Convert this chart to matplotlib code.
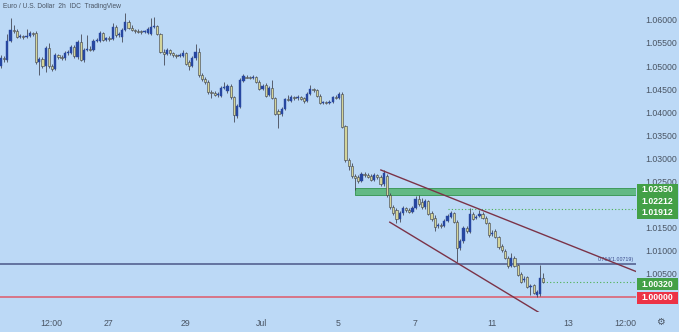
import matplotlib
matplotlib.use("Agg")
import numpy as np
import matplotlib.pyplot as plt
from matplotlib.patches import Rectangle
import matplotlib.transforms as mtransforms

# EUR/USD 2h candles (open, high, low, close)
opens = [1.0500, 1.0517, 1.0513, 1.0554, 1.0578, 1.0576, 1.0563, 1.0565, 1.0563, 1.0565,
         1.0572, 1.0572, 1.0509, 1.0515, 1.0500, 1.0539, 1.0500, 1.0494, 1.0524, 1.0520,
         1.0517, 1.0528, 1.0528, 1.0541, 1.0520, 1.0552, 1.0513, 1.0535, 1.0537, 1.0535,
         1.0554, 1.0554, 1.0572, 1.0556, 1.0561, 1.0559, 1.0585, 1.0567, 1.0563, 1.0578,
         1.0595, 1.0582, 1.0578, 1.0576, 1.0576, 1.0574, 1.0572, 1.0569, 1.0585, 1.0587,
         1.0569, 1.0530, 1.0526, 1.0535, 1.0528, 1.0524, 1.0522, 1.0522, 1.0528, 1.0509,
         1.0500, 1.0517, 1.0530, 1.0481, 1.0472, 1.0465, 1.0444, 1.0442, 1.0437, 1.0435,
         1.0452, 1.0446, 1.0457, 1.0433, 1.0392, 1.0411, 1.0468, 1.0476, 1.0476, 1.0474,
         1.0476, 1.0465, 1.0450, 1.0459, 1.0437, 1.0452, 1.0431, 1.0403, 1.0396, 1.0407,
         1.0429, 1.0424, 1.0433, 1.0431, 1.0433, 1.0431, 1.0424, 1.0439, 1.0450, 1.0448,
         1.0435, 1.0420, 1.0422, 1.0420, 1.0422, 1.0433, 1.0431, 1.0439, 1.0370, 1.0297,
         1.0284, 1.0262, 1.0260, 1.0251, 1.0266, 1.0264, 1.0262, 1.0253, 1.0264, 1.0260,
         1.0245, 1.0262, 1.0221, 1.0195, 1.0188, 1.0169, 1.0182, 1.0193, 1.0188, 1.0184,
         1.0193, 1.0212, 1.0206, 1.0195, 1.0208, 1.0182, 1.0171, 1.0154, 1.0156, 1.0154,
         1.0165, 1.0173, 1.0182, 1.0162, 1.0106, 1.0121, 1.0149, 1.0141, 1.0180, 1.0171,
         1.0175, 1.0180, 1.0171, 1.0160, 1.0136, 1.0143, 1.0130, 1.0110, 1.0100, 1.0084,
         1.0067, 1.0084, 1.0069, 1.0050, 1.0037, 1.0043, 1.0022, 1.0026, 1.0004, 1.0006,
         1.0041]
highs = [1.0524, 1.0522, 1.0569, 1.0604, 1.0589, 1.0580, 1.0569, 1.0567, 1.0580, 1.0576,
         1.0574, 1.0576, 1.0520, 1.0520, 1.0543, 1.0550, 1.0504, 1.0528, 1.0526, 1.0524,
         1.0533, 1.0535, 1.0546, 1.0546, 1.0556, 1.0569, 1.0539, 1.0567, 1.0543, 1.0559,
         1.0561, 1.0576, 1.0574, 1.0563, 1.0565, 1.0593, 1.0589, 1.0574, 1.0582, 1.0615,
         1.0600, 1.0589, 1.0580, 1.0580, 1.0578, 1.0578, 1.0585, 1.0604, 1.0606, 1.0589,
         1.0572, 1.0537, 1.0539, 1.0537, 1.0530, 1.0526, 1.0528, 1.0535, 1.0530, 1.0513,
         1.0522, 1.0548, 1.0539, 1.0485, 1.0476, 1.0470, 1.0448, 1.0446, 1.0444, 1.0457,
         1.0465, 1.0461, 1.0461, 1.0435, 1.0418, 1.0474, 1.0483, 1.0481, 1.0478, 1.0481,
         1.0478, 1.0470, 1.0461, 1.0463, 1.0457, 1.0470, 1.0433, 1.0407, 1.0411, 1.0431,
         1.0437, 1.0437, 1.0435, 1.0437, 1.0435, 1.0433, 1.0444, 1.0459, 1.0452, 1.0450,
         1.0439, 1.0424, 1.0424, 1.0427, 1.0435, 1.0437, 1.0444, 1.0444, 1.0372, 1.0301,
         1.0290, 1.0266, 1.0264, 1.0271, 1.0271, 1.0268, 1.0266, 1.0268, 1.0266, 1.0264,
         1.0275, 1.0266, 1.0225, 1.0199, 1.0193, 1.0186, 1.0197, 1.0195, 1.0193, 1.0197,
         1.0219, 1.0221, 1.0214, 1.0212, 1.0210, 1.0186, 1.0178, 1.0160, 1.0160, 1.0169,
         1.0180, 1.0186, 1.0184, 1.0167, 1.0126, 1.0154, 1.0154, 1.0193, 1.0184, 1.0178,
         1.0188, 1.0184, 1.0175, 1.0162, 1.0145, 1.0147, 1.0132, 1.0115, 1.0104, 1.0089,
         1.0095, 1.0089, 1.0071, 1.0054, 1.0045, 1.0045, 1.0028, 1.0028, 1.0015, 1.0069,
         1.0052]
lows = [1.0496, 1.0509, 1.0509, 1.0552, 1.0572, 1.0561, 1.0561, 1.0559, 1.0561, 1.0563,
        1.0565, 1.0504, 1.0481, 1.0496, 1.0487, 1.0496, 1.0489, 1.0491, 1.0515, 1.0513,
        1.0513, 1.0524, 1.0526, 1.0517, 1.0515, 1.0511, 1.0509, 1.0533, 1.0533, 1.0533,
        1.0552, 1.0552, 1.0554, 1.0554, 1.0554, 1.0556, 1.0563, 1.0563, 1.0552, 1.0576,
        1.0580, 1.0576, 1.0572, 1.0572, 1.0569, 1.0572, 1.0569, 1.0567, 1.0582, 1.0567,
        1.0528, 1.0502, 1.0524, 1.0524, 1.0520, 1.0517, 1.0520, 1.0520, 1.0502, 1.0491,
        1.0498, 1.0513, 1.0476, 1.0468, 1.0461, 1.0439, 1.0431, 1.0435, 1.0433, 1.0433,
        1.0450, 1.0442, 1.0429, 1.0379, 1.0388, 1.0409, 1.0465, 1.0474, 1.0472, 1.0472,
        1.0463, 1.0448, 1.0448, 1.0433, 1.0435, 1.0429, 1.0394, 1.0366, 1.0392, 1.0405,
        1.0424, 1.0422, 1.0427, 1.0427, 1.0427, 1.0420, 1.0422, 1.0437, 1.0444, 1.0433,
        1.0418, 1.0418, 1.0418, 1.0418, 1.0420, 1.0429, 1.0429, 1.0366, 1.0292, 1.0275,
        1.0258, 1.0232, 1.0247, 1.0249, 1.0260, 1.0258, 1.0251, 1.0251, 1.0255, 1.0240,
        1.0240, 1.0216, 1.0191, 1.0178, 1.0160, 1.0162, 1.0178, 1.0184, 1.0182, 1.0182,
        1.0191, 1.0197, 1.0191, 1.0191, 1.0178, 1.0165, 1.0143, 1.0149, 1.0149, 1.0152,
        1.0162, 1.0171, 1.0160, 1.0076, 1.0102, 1.0117, 1.0139, 1.0139, 1.0167, 1.0169,
        1.0173, 1.0169, 1.0158, 1.0130, 1.0132, 1.0128, 1.0104, 1.0097, 1.0082, 1.0063,
        1.0065, 1.0065, 1.0045, 1.0030, 1.0032, 1.0019, 1.0004, 1.0006, 1.0000, 1.0002,
        1.0030]
closes = [1.0517, 1.0515, 1.0554, 1.0578, 1.0576, 1.0563, 1.0565, 1.0563, 1.0565, 1.0572,
          1.0569, 1.0509, 1.0515, 1.0500, 1.0539, 1.0500, 1.0494, 1.0524, 1.0520, 1.0517,
          1.0528, 1.0530, 1.0541, 1.0522, 1.0552, 1.0513, 1.0535, 1.0537, 1.0535, 1.0554,
          1.0556, 1.0572, 1.0556, 1.0561, 1.0559, 1.0585, 1.0567, 1.0569, 1.0578, 1.0595,
          1.0582, 1.0578, 1.0576, 1.0574, 1.0574, 1.0576, 1.0580, 1.0585, 1.0587, 1.0569,
          1.0530, 1.0526, 1.0535, 1.0528, 1.0524, 1.0522, 1.0524, 1.0528, 1.0504, 1.0500,
          1.0517, 1.0530, 1.0481, 1.0472, 1.0465, 1.0444, 1.0442, 1.0437, 1.0439, 1.0452,
          1.0455, 1.0457, 1.0433, 1.0394, 1.0414, 1.0470, 1.0478, 1.0474, 1.0474, 1.0476,
          1.0465, 1.0450, 1.0457, 1.0435, 1.0452, 1.0431, 1.0396, 1.0396, 1.0407, 1.0429,
          1.0427, 1.0433, 1.0431, 1.0433, 1.0429, 1.0424, 1.0439, 1.0450, 1.0448, 1.0435,
          1.0420, 1.0422, 1.0420, 1.0422, 1.0433, 1.0431, 1.0439, 1.0368, 1.0297, 1.0284,
          1.0262, 1.0258, 1.0251, 1.0266, 1.0264, 1.0260, 1.0253, 1.0264, 1.0260, 1.0245,
          1.0268, 1.0221, 1.0195, 1.0182, 1.0169, 1.0182, 1.0193, 1.0188, 1.0184, 1.0193,
          1.0212, 1.0201, 1.0195, 1.0208, 1.0180, 1.0169, 1.0152, 1.0156, 1.0154, 1.0165,
          1.0175, 1.0182, 1.0162, 1.0106, 1.0121, 1.0149, 1.0143, 1.0180, 1.0169, 1.0173,
          1.0180, 1.0171, 1.0160, 1.0134, 1.0139, 1.0130, 1.0108, 1.0102, 1.0084, 1.0067,
          1.0084, 1.0067, 1.0048, 1.0032, 1.0039, 1.0022, 1.0024, 1.0009, 1.0011, 1.0041,
          1.0032]

# time axis labels (candle index -> label)
time_ticks = [15.8, 33.8, 57.8, 81.8, 105.8, 129.8, 153.8, 177.8, 195.8]
time_labels = ["12:00", "27", "29", "Jul", "5", "7", "11", "13", "12:00"]

# price scale labels still visible next to the coloured boxes
price_ticks = [1.005, 1.010, 1.015, 1.025, 1.030, 1.035,
               1.040, 1.045, 1.050, 1.055, 1.060]

# drawn levels
zone_low, zone_high = 1.02212, 1.02350
zone_start = 111
level_1 = 1.01912
level_1_start = 140
fib_level = 1.00719
fib_text = "0.764(1.00719)"
last_price = 1.00320
parity = 1.00000

# channel lines: (index, price) endpoints
upper_line_x = [119.1, 205.0]
upper_line_y = [1.0275, 1.0039]
lower_line_x = [121.9, 175.0]
lower_line_y = [1.0162, 0.9940]

# price labels on the right scale: value, colour, label centre
box_values = [1.02350, 1.02212, 1.01912, 1.00320, 1.00000]
box_colors = ["#43a047", "#43a047", "#43a047", "#43a047", "#ec3346"]
box_centres = [1.0232, 1.0207, 1.0182, 1.0028, 0.9998]

bg = "#bcd9f6"
up_col = "#2747a0"
down_col = "#d3d49a"
edge_col = "#3a3c48"
txt_col = "#4a5564"
font = "Liberation Sans"

fig = plt.figure(figsize=(6.79, 3.32), dpi=100, facecolor=bg)
ax = fig.add_axes([0, 20 / 332, 636 / 679, 312 / 332], facecolor=bg)
for s in ax.spines.values():
    s.set_visible(False)

n = len(closes)
x = np.arange(n)
o = np.array(opens)
h = np.array(highs)
l = np.array(lows)
c = np.array(closes)
up = c >= o

ax.vlines(x, l, h, color=edge_col, linewidth=0.55, zorder=2)
body_bottom = np.minimum(o, c)
body_h = np.maximum(np.abs(c - o), 0.00009)
ax.bar(x[up], body_h[up], bottom=body_bottom[up], width=0.7,
       color=up_col, edgecolor=up_col, linewidth=0.3, zorder=3)
ax.bar(x[~up], body_h[~up], bottom=body_bottom[~up], width=0.7,
       color=down_col, edgecolor=edge_col, linewidth=0.4, zorder=3)

x_max = 199.1
ax.set_xlim(-0.31, x_max)
ax.set_ylim(0.99675, 1.0643)

# support zone and levels
ax.add_patch(Rectangle((zone_start, zone_low), x_max - zone_start, zone_high - zone_low,
                       facecolor="#62b985", edgecolor="#3f9a5c", linewidth=0.7, zorder=1.5))
ax.hlines(level_1, level_1_start, x_max, color="#4caf50", linewidth=0.8,
          linestyle=(0, (1, 2)), zorder=1.5)
ax.hlines(last_price, n - 1, x_max, color="#4caf50", linewidth=0.8,
          linestyle=(0, (1, 2)), zorder=1.5)
ax.axhline(fib_level, color="#4b5788", linewidth=1.1, zorder=1.5)
trans = mtransforms.blended_transform_factory(ax.transAxes, ax.transData)
ax.text(0.996, fib_level + 0.0003, fib_text, transform=trans,
        ha="right", va="bottom", fontsize=3.8, color="#3a4a8a", family=font)
ax.axhline(parity, color="#df5a6a", linewidth=1.1, zorder=1.5)

ax.plot(upper_line_x, upper_line_y, color="#7b3348", linewidth=1.0, zorder=4)
ax.plot(lower_line_x, lower_line_y, color="#7b3348", linewidth=1.0, zorder=4)

# axes ticks
ax.yaxis.tick_right()
ax.set_yticks(price_ticks)
ax.set_yticklabels(["{:.5f}".format(p) for p in price_ticks])
ax.tick_params(axis="y", length=0, pad=7, labelsize=6.3, labelcolor=txt_col)
ax.set_xticks(time_ticks)
ax.set_xticklabels(time_labels)
ax.tick_params(axis="x", length=0, pad=5, labelsize=6.3, labelcolor=txt_col)
for lab in ax.get_xticklabels() + ax.get_yticklabels():
    lab.set_family(font)

# coloured price boxes on the right scale
box_h = 11.5 * 0.0002165
for val, col, yc in zip(box_values, box_colors, box_centres):
    ax.add_patch(Rectangle((1.0016, yc - box_h / 2), 0.0645, box_h, transform=trans,
                           facecolor=col, edgecolor="none", clip_on=False, zorder=6))
    ax.text(1.0016 + 0.0645 / 2, yc, "{:.5f}".format(val), transform=trans, ha="center",
            va="center", fontsize=6.3, color="white", fontweight="bold", family=font,
            clip_on=False, zorder=7)

fig.text(3 / 679, 1 - 6 / 332, "Euro / U.S. Dollar  2h  IDC  TradingView", ha="left",
         va="center", fontsize=4.8, color=txt_col, family=font)
fig.text(660 / 679, 10 / 332, "\u2699", ha="center", va="center", fontsize=7,
         color=txt_col, family="DejaVu Sans")

fig.savefig("out.png", dpi=100, facecolor=bg)
